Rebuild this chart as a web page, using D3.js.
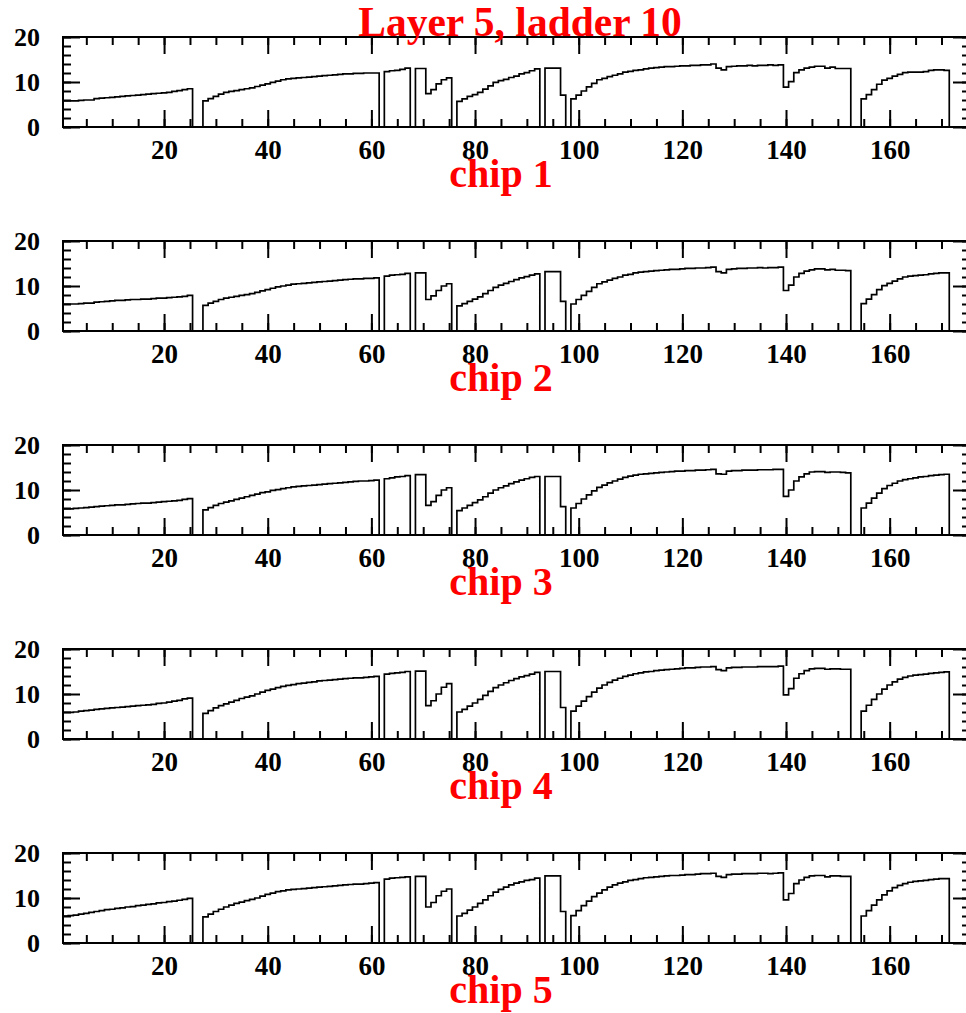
<!DOCTYPE html>
<html><head><meta charset="utf-8">
<script src="https://cdn.jsdelivr.net/npm/d3@7"></script>
<style>
html,body{margin:0;padding:0;background:#fff;}
svg{display:block;}
</style></head>
<body>
<svg id="chart" width="966" height="1013"></svg>
<script>
const title = "Layer 5, ladder 10";
const chipLabels = ["chip 1", "chip 2", "chip 3", "chip 4", "chip 5"];
const xDomain = [0.5, 175.5];
const yDomain = [0, 20];
const xMajorTicks = [20, 40, 60, 80, 100, 120, 140, 160];
const xMinorTicks = d3.range(5, 175, 5);
const yMajorTicks = [0, 10, 20];
const yMinorTicks = d3.range(0, 21, 2);

// bin contents, bins 1..175
const chip1 = [
  5.8,5.8,5.8,5.9,6.0,6.0,6.3,6.4,6.5,6.6,6.7,6.8,6.9,7.0,7.1,7.2,7.3,7.4,7.5,7.6,7.7,7.9,8.1,8.3,8.5,
  0,0,
  5.8,6.3,6.8,7.3,7.7,7.9,8.1,8.3,8.5,8.7,9.0,9.3,9.6,9.9,10.2,10.5,10.7,10.8,10.9,11.0,11.1,11.2,11.3,11.4,11.5,11.6,11.7,11.8,11.8,11.9,11.9,12.0,12.0,12.0,
  0,
  12.3,12.5,12.6,12.8,13.1,
  0,
  13.0,13.0,7.4,8.3,9.6,10.5,10.9,
  0,
  5.7,6.25,6.8,7.2,7.7,8.4,9.15,9.9,10.3,10.6,11.0,11.3,11.8,12.1,12.5,12.9,
  0,
  13.1,13.1,13.1,7.1,
  0,
  6.25,7.1,8.0,8.9,9.7,10.5,10.8,11.2,11.5,11.8,12.2,12.35,12.6,12.7,12.9,13.1,13.2,13.3,13.4,13.4,13.5,13.6,13.6,13.7,13.7,13.8,13.8,14.0,
  13.1,12.7,13.4,13.5,13.6,13.6,13.7,13.6,13.7,13.7,13.8,13.7,13.8,
  8.85,10.1,12.1,12.7,13.1,13.3,13.5,13.5,13.1,13.3,13.0,13.0,13.0,
  0,0,
  6.25,7.2,8.3,9.5,10.4,10.8,11.3,11.7,12.1,12.2,12.2,12.2,12.3,12.6,12.7,12.7,12.6,
  0,0,0,0
];
const chip2 = [
  6.0,6.0,6.0,6.1,6.2,6.2,6.4,6.5,6.6,6.7,6.8,6.8,6.9,7.0,7.0,7.1,7.1,7.2,7.3,7.3,7.4,7.5,7.6,7.7,7.9,
  0,0,
  5.7,6.2,6.6,7.0,7.3,7.5,7.7,7.9,8.1,8.3,8.6,8.9,9.2,9.5,9.8,10.0,10.2,10.4,10.5,10.6,10.7,10.8,10.9,11.0,11.1,11.2,11.3,11.4,11.5,11.6,11.6,11.7,11.7,11.8,
  0,
  12.2,12.4,12.5,12.6,12.8,
  0,
  12.9,12.9,7.0,7.8,9.0,10.0,10.5,
  0,
  5.6,6.1,6.6,7.1,7.6,8.3,9.0,9.7,10.2,10.6,11.0,11.4,11.8,12.1,12.4,12.7,
  0,
  13.2,13.2,13.2,6.6,
  0,
  6.0,7.0,7.9,8.8,9.7,10.5,10.9,11.3,11.7,12.0,12.4,12.6,12.9,13.1,13.2,13.3,13.4,13.5,13.6,13.7,13.7,13.8,13.9,13.9,14.0,14.0,14.1,14.2,
  13.2,12.9,13.7,13.8,13.9,13.9,14.0,14.0,14.1,14.0,14.1,14.1,14.2,
  9.0,10.2,12.0,12.8,13.3,13.6,13.8,13.8,13.6,13.7,13.5,13.5,13.4,
  0,0,
  6.1,7.1,8.1,9.2,10.1,10.6,11.1,11.6,12.0,12.2,12.3,12.4,12.5,12.7,12.8,12.9,12.9,
  0,0,0,0
];
const chip3 = [
  5.8,5.8,5.9,6.0,6.1,6.2,6.3,6.4,6.5,6.6,6.7,6.7,6.8,6.9,7.0,7.1,7.1,7.2,7.3,7.4,7.5,7.6,7.7,7.9,8.1,
  0,0,
  5.6,6.1,6.6,7.0,7.3,7.6,7.9,8.2,8.5,8.8,9.1,9.4,9.6,9.9,10.1,10.3,10.5,10.7,10.8,10.9,11.0,11.1,11.2,11.3,11.4,11.5,11.6,11.7,11.8,11.9,12.0,12.0,12.1,12.2,
  0,
  12.5,12.7,12.9,13.0,13.2,
  0,
  13.4,13.4,6.6,7.4,8.8,10.0,10.5,
  0,
  5.4,6.0,6.6,7.2,7.8,8.5,9.3,10.0,10.5,10.9,11.4,11.8,12.2,12.5,12.8,13.0,
  0,
  13.0,13.0,13.0,6.3,
  0,
  6.0,7.0,8.0,8.9,9.8,10.6,11.1,11.6,12.0,12.4,12.8,13.1,13.3,13.5,13.6,13.7,13.8,13.9,14.0,14.1,14.2,14.2,14.3,14.3,14.4,14.4,14.5,14.6,
  13.6,13.5,14.2,14.3,14.3,14.4,14.4,14.4,14.5,14.5,14.5,14.6,14.6,
  8.6,10.0,12.0,12.9,13.6,14.0,14.1,14.1,13.9,14.0,14.0,13.9,13.8,
  0,0,
  6.0,7.1,8.2,9.3,10.3,11.0,11.5,12.0,12.3,12.5,12.7,12.9,13.0,13.2,13.3,13.4,13.5,
  0,0,0,0
];
const chip4 = [
  5.9,5.9,6.0,6.2,6.3,6.4,6.6,6.7,6.8,6.9,7.0,7.1,7.2,7.3,7.4,7.5,7.6,7.7,7.9,8.0,8.2,8.4,8.6,8.9,9.1,
  0,0,
  5.7,6.3,6.9,7.4,7.8,8.2,8.6,9.0,9.3,9.6,10.0,10.4,10.8,11.1,11.4,11.7,11.9,12.1,12.3,12.4,12.6,12.7,12.9,13.0,13.1,13.2,13.3,13.4,13.5,13.6,13.6,13.7,13.8,13.9,
  0,
  14.4,14.6,14.7,14.8,15.0,
  0,
  15.1,15.1,7.4,8.5,10.0,11.5,12.3,
  0,
  6.0,6.6,7.3,8.0,8.8,9.7,10.6,11.4,12.0,12.5,13.0,13.4,13.8,14.1,14.4,14.8,
  0,
  15.0,15.0,15.0,7.0,
  0,
  6.2,7.3,8.4,9.4,10.4,11.3,12.0,12.6,13.1,13.5,13.9,14.2,14.5,14.7,14.9,15.0,15.2,15.3,15.4,15.5,15.6,15.7,15.8,15.8,15.9,16.0,16.0,16.1,
  15.4,15.2,15.8,15.9,15.9,16.0,16.0,16.0,16.1,16.1,16.1,16.1,16.2,
  9.8,11.2,13.5,14.5,15.2,15.6,15.7,15.7,15.5,15.6,15.6,15.5,15.5,
  0,0,
  6.2,7.5,8.8,10.0,11.1,12.0,12.7,13.3,13.7,14.0,14.2,14.3,14.4,14.6,14.7,14.8,14.9,
  0,0,0,0
];
const chip5 = [
  6.0,6.1,6.2,6.4,6.6,6.8,7.0,7.2,7.4,7.5,7.7,7.8,8.0,8.1,8.3,8.4,8.6,8.7,8.9,9.0,9.2,9.3,9.5,9.7,9.9,
  0,0,
  5.8,6.4,7.0,7.5,8.0,8.4,8.8,9.1,9.4,9.7,10.0,10.4,10.8,11.1,11.4,11.6,11.8,11.9,12.0,12.1,12.2,12.3,12.4,12.5,12.6,12.7,12.8,12.9,13.0,13.1,13.1,13.2,13.3,13.4,
  0,
  14.2,14.4,14.5,14.6,14.7,
  0,
  14.8,14.8,8.0,9.0,10.5,11.5,12.0,
  0,
  6.0,6.6,7.3,8.0,8.8,9.6,10.5,11.3,11.9,12.4,12.9,13.3,13.6,13.9,14.1,14.4,
  0,
  14.9,14.9,14.9,7.0,
  0,
  6.1,7.2,8.3,9.3,10.3,11.1,11.8,12.4,12.9,13.3,13.6,13.9,14.1,14.3,14.5,14.6,14.7,14.8,14.9,15.0,15.0,15.1,15.2,15.2,15.3,15.4,15.4,15.5,
  14.8,14.6,15.2,15.3,15.3,15.4,15.4,15.4,15.5,15.5,15.4,15.5,15.6,
  9.6,11.0,13.2,14.0,14.6,14.9,15.0,15.0,14.7,14.9,14.9,14.8,14.8,
  0,0,
  6.0,7.2,8.4,9.6,10.7,11.6,12.3,12.8,13.2,13.5,13.7,13.8,13.9,14.1,14.2,14.3,14.3,
  0,0,0,0
];
const chips = [chip1, chip2, chip3, chip4, chip5];

const svg = d3.select("#chart");
const frameLeft = 63, frameRight = 970;
const panelTop0 = 37, panelH = 90, panelStep = 204;
const FONT = "'Liberation Serif','Times New Roman',serif";

const x = d3.scaleLinear().domain(xDomain).range([frameLeft, frameRight]);

chips.forEach((vals, k) => {
  const top = panelTop0 + k * panelStep;
  const bottom = top + panelH;
  const y = d3.scaleLinear().domain(yDomain).range([bottom, top]);
  const g = svg.append("g");

  // histogram outline
  const nb = vals.length;
  const w = (xDomain[1] - xDomain[0]) / nb;
  const pts = vals.map((v, i) => [xDomain[0] + i * w, v]);
  pts.push([xDomain[1], vals[nb - 1]]);
  const clipId = "clip" + k;
  svg.append("clipPath").attr("id", clipId).append("rect")
    .attr("x", frameLeft).attr("y", top).attr("width", frameRight - frameLeft).attr("height", panelH);
  g.append("path")
    .attr("clip-path", `url(#${clipId})`)
    .attr("d", d3.line().x(d => x(d[0])).y(d => y(d[1])).curve(d3.curveStepAfter)(pts))
    .attr("fill", "none").attr("stroke", "#000").attr("stroke-width", 1.7);

  const styleAxis = sel => {
    sel.select(".domain").remove();
    sel.selectAll(".tick line").attr("stroke", "#000").attr("stroke-width", 2);
    sel.selectAll("text").attr("font-family", FONT).attr("font-weight", "bold").attr("fill", "#000");
  };

  // bottom axis
  g.append("g").attr("transform", `translate(0,${bottom})`)
    .call(d3.axisBottom(x).tickValues(xMinorTicks).tickSize(-8).tickFormat(""))
    .call(styleAxis);
  g.append("g").attr("transform", `translate(0,${bottom})`)
    .call(d3.axisBottom(x).tickValues(xMajorTicks).tickSize(-17).tickSizeOuter(0).tickPadding(13).tickFormat(d3.format("d")))
    .call(styleAxis)
    .call(s => s.selectAll("text").attr("font-size", 27));
  // top axis
  g.append("g").attr("transform", `translate(0,${top})`)
    .call(d3.axisTop(x).tickValues(xMinorTicks).tickSize(-8).tickFormat(""))
    .call(styleAxis);
  g.append("g").attr("transform", `translate(0,${top})`)
    .call(d3.axisTop(x).tickValues(xMajorTicks).tickSize(-17).tickFormat(""))
    .call(styleAxis);
  // left axis
  g.append("g").attr("transform", `translate(${frameLeft},0)`)
    .call(d3.axisLeft(y).tickValues(yMinorTicks).tickSize(-8).tickFormat(""))
    .call(styleAxis);
  g.append("g").attr("transform", `translate(${frameLeft},0)`)
    .call(d3.axisLeft(y).tickValues(yMajorTicks).tickSize(-17).tickPadding(23).tickFormat(d3.format("d")))
    .call(styleAxis)
    .call(s => s.selectAll("text").attr("font-size", 26));
  // right axis
  g.append("g").attr("transform", `translate(${frameRight},0)`)
    .call(d3.axisRight(y).tickValues(yMinorTicks).tickSize(-8).tickFormat(""))
    .call(styleAxis);
  g.append("g").attr("transform", `translate(${frameRight},0)`)
    .call(d3.axisRight(y).tickValues(yMajorTicks).tickSize(-17).tickFormat(""))
    .call(styleAxis);

  // frame
  g.append("rect").attr("x", frameLeft).attr("y", top)
    .attr("width", frameRight - frameLeft).attr("height", panelH)
    .attr("fill", "none").attr("stroke", "#000").attr("stroke-width", 2);

  // chip label
  g.append("text").attr("x", 501).attr("y", bottom + 60)
    .attr("text-anchor", "middle").attr("font-family", FONT).attr("font-weight", "bold")
    .attr("font-size", 40).attr("fill", "#ff0000").text(chipLabels[k]);
});

svg.append("text").attr("x", 520).attr("y", 36)
  .attr("text-anchor", "middle").attr("font-family", FONT).attr("font-weight", "bold")
  .attr("font-size", 41.5).attr("fill", "#ff0000").text(title);
</script>
</body></html>
